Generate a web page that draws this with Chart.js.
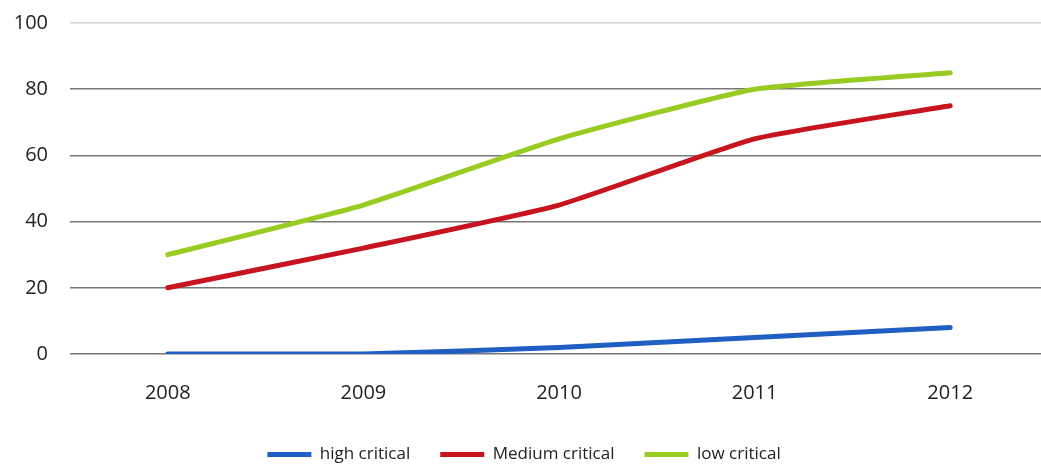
<!DOCTYPE html>
<html>
<head>
<meta charset="utf-8">
<script src="https://cdn.jsdelivr.net/npm/chart.js@4"></script>
<style>
  html, body { margin: 0; padding: 0; background: #fff; overflow: hidden; }
  .wrap { width: 1048px; height: 466px; }
</style>
</head>
<body>
<div class="wrap"><canvas id="myChart" width="1048" height="466"></canvas></div>
<script>
const years = ["2008", "2009", "2010", "2011", "2012"];
const highCritical = [0, 0, 2, 5, 8];
const mediumCritical = [20, 32, 45, 65, 75];
const lowCritical = [30, 45, 65, 80, 85];
const yTicks = [0, 20, 40, 60, 80, 100];

const font = "'Open Sans', sans-serif";

const ctx = document.getElementById("myChart").getContext("2d");
const chart = new Chart(ctx, {
  type: "line",
  data: {
    labels: years,
    datasets: [
      {
        label: "high critical",
        data: highCritical,
        borderColor: "#1f5fc4",
        backgroundColor: "#1f5fc4",
        borderWidth: 5,
      },
      {
        label: "Medium critical",
        data: mediumCritical,
        borderColor: "#c8141e",
        backgroundColor: "#c8141e",
        borderWidth: 5,
      },
      {
        label: "low critical",
        data: lowCritical,
        borderColor: "#99cc22",
        backgroundColor: "#99cc22",
        borderWidth: 5,
      },
    ],
  },
  options: {
    responsive: false,
    animation: false,
    // negative bottom padding pushes the wide-spaced legend down to the edge
    layout: { padding: { top: 23, right: 0, left: 0, bottom: -7 } },
    elements: {
      line: { tension: 0.15, borderCapStyle: "round" },
      point: { radius: 0 },
    },
    plugins: {
      legend: {
        position: "bottom",
        labels: {
          usePointStyle: true,
          pointStyle: "line",
          pointStyleWidth: 44,
          padding: 30,
          color: "#222",
          font: { family: font, size: 17 },
        },
      },
      tooltip: { enabled: false },
    },
    scales: {
      x: {
        offset: true,
        grid: { display: false },
        border: { display: false },
        ticks: { color: "#222", padding: 19, font: { family: font, size: 20 } },
        afterFit: function (scale) {
          scale.height = 62;
          scale.paddingLeft = 0;
          scale.paddingRight = 0;
        },
      },
      y: {
        min: 0,
        max: 100,
        afterBuildTicks: function (scale) {
          scale.ticks = yTicks.map((v) => ({ value: v }));
        },
        grid: {
          drawTicks: false,
          lineWidth: 1.5,
          color: function (c) {
            return c.tick && c.tick.value === 100 ? "#cfcfcf" : "#777";
          },
        },
        border: { display: false },
        ticks: { color: "#222", padding: 22, font: { family: font, size: 20 } },
        afterFit: function (scale) {
          scale.width = 70;
          scale.paddingTop = 0;
          scale.paddingBottom = 0;
        },
      },
    },
  },
});
</script>
</body>
</html>
